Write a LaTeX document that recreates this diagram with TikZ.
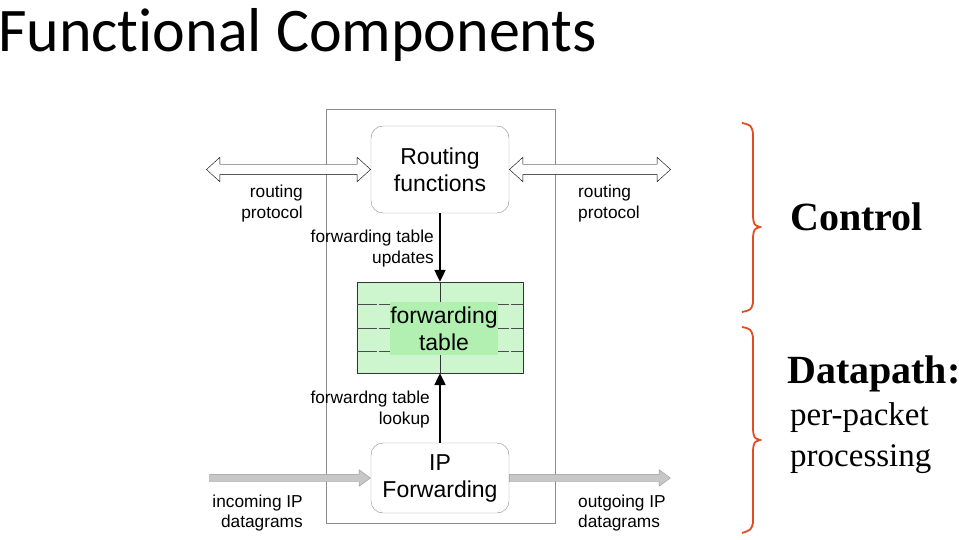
\documentclass[tikz,border=0pt]{standalone}
\usepackage{fontspec}
\setmainfont{Liberation Sans}
\newfontfamily\titlefont[Ligatures={NoCommon}]{Carlito}
\newfontfamily\serfont{Liberation Serif}
\usetikzlibrary{shapes.arrows,arrows.meta,positioning}
\definecolor{tabgreen}{RGB}{206,246,206}
\definecolor{labgreen}{RGB}{178,240,178}
\definecolor{bracered}{RGB}{226,76,36}

\begin{document}
\begin{tikzpicture}[x=1pt, y=-1pt,
    func/.style={draw=black!45, rounded corners=12pt, minimum width=138pt, align=center, font=\fontsize{23}{27}\selectfont},
    lbl/.style={inner sep=0pt, font=\fontsize{17.3}{20.5}\selectfont},
    ctrl/.style={-{Triangle[length=12pt,width=11pt]}, line width=2.2pt},
    hollow/.style={double arrow, draw, fill=white, inner xsep=0pt, inner ysep=5pt, double arrow head extend=7pt, double arrow tip angle=85},
    datarrow/.style={single arrow, draw=black!40, fill=black!22, inner xsep=0pt, inner ysep=3.5pt, single arrow head extend=4.5pt, single arrow tip angle=72, minimum height=161pt},
    brace/.style={draw=bracered, line width=1.8pt}
  ]
  \useasboundingbox (0,0) rectangle (959,540);

  \node[anchor=base west, inner sep=0pt, font=\titlefont\fontsize{62}{62}\selectfont] (title) at (-2,52) {Functional Components};

  % router box
  \node[draw=black!45, minimum width=229pt, minimum height=414pt] (rtr) at (440.5,316) {};

  \node[func, minimum height=87pt] (rf) at (440,169.5) {Routing\\functions};
  \node[func, minimum height=70pt] (ipf) at (440,478) {IP\\Forwarding};

  % forwarding table
  \node[draw=black!80, fill=tabgreen, minimum width=166pt, minimum height=91pt, inner sep=0pt] (ftab) at (440,327.5) {};
  \foreach \y in {304,328,351}
    \draw[black!70, dash pattern=on 20pt off 2pt] (ftab.west |- 0,\y) -- (ftab.east |- 0,\y);
  \draw[black!80] (ftab.north) -- (ftab.south);
  \node[fill=labgreen, minimum width=106pt, minimum height=53pt, inner sep=0pt, align=center, font=\fontsize{23}{27}\selectfont] (ftlab) at (444,328.5) {forwarding\\table};

  \draw[ctrl] (rf.south) -- (ftab.north);
  \draw[ctrl] (ipf.north) -- (ftab.south);

  % routing protocol arrows
  \node[hollow, minimum height=164pt, anchor=tip 1] (rpl) at (rf.west) {};
  \node[hollow, minimum height=161pt, anchor=tip 2] (rpr) at (rf.east) {};

  % datagram arrows
  \node[datarrow, anchor=tip] (din) at (ipf.west) {};
  \node[datarrow, anchor=tail] (dout) at (ipf.east) {};

  \node[lbl, anchor=north east, align=right] (lrp) at (303,185) {routing\\protocol};
  \node[lbl, anchor=north west, align=left] (rrp) at (578,185) {routing\\protocol};
  \node[lbl, anchor=north east, align=right] (upd) at (434,230) {forwarding table\\updates};
  \node[lbl, anchor=north east, align=right] (lkp) at (430,391) {forwardng table\\lookup};
  \node[lbl, anchor=north east, align=right] (inc) at (303,494.5) {incoming IP\\datagrams};
  \node[lbl, anchor=north west, align=left] (outg) at (578,494.5) {outgoing IP\\datagrams};

  % braces
  \draw[brace] (742,123) .. controls (751,125) .. (753,133) -- (753,217) .. controls (754,225) .. (760,227) .. controls (754,229) .. (753,237) -- (753,303) .. controls (751,310) .. (742,312);
  \draw[brace] (742,327) .. controls (751,329) .. (753,337) -- (753,430) .. controls (754,438) .. (760,440) .. controls (754,442) .. (753,450) -- (753,523) .. controls (751,530) .. (742,533);

  \node[anchor=base west, inner sep=0pt, font=\serfont\bfseries\fontsize{40}{40}\selectfont] (ctl) at (790,231) {Control};
  \node[anchor=base west, inner sep=0pt, font=\serfont\bfseries\fontsize{40}{40}\selectfont] (dp) at (787,383) {Datapath:};
  \node[anchor=north west, inner sep=0pt, align=left, font=\serfont\fontsize{33}{41.5}\selectfont] (ppp) at (790,402) {per-packet\\processing};
\end{tikzpicture}
\end{document}
